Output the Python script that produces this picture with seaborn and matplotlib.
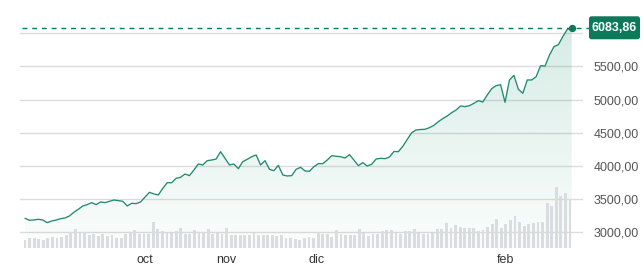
import numpy as np
import matplotlib
matplotlib.use("Agg")
import matplotlib.pyplot as plt
import matplotlib.transforms as mtransforms
from matplotlib.patches import FancyBboxPatch
import seaborn as sns

# ---------------- data ----------------
price = [3211, 3181, 3186, 3196, 3185, 3145, 3170, 3185, 3205, 3216,
         3246, 3302, 3347, 3397, 3417, 3447, 3417, 3457, 3447, 3467,
         3487, 3477, 3467, 3397, 3437, 3432, 3457, 3530, 3603, 3578,
         3563, 3663, 3748, 3748, 3814, 3829, 3879, 3854, 3939, 4030,
         4015, 4080, 4090, 4105, 4216, 4116, 4015, 4030, 3959, 4065,
         4100, 4140, 4166, 4015, 4080, 3950, 3929, 4010, 3864, 3849,
         3854, 3950, 3980, 3925, 3920, 3990, 4035, 4035, 4090, 4155,
         4146, 4140, 4120, 4171, 4090, 4005, 4050, 4000, 4025, 4105,
         4116, 4110, 4135, 4218, 4216, 4296, 4400, 4502, 4543, 4550,
         4553, 4578, 4613, 4668, 4714, 4754, 4804, 4845, 4905, 4895,
         4910, 4945, 4985, 4965, 5070, 5166, 5211, 5226, 4960, 5297,
         5367, 5156, 5096, 5297, 5297, 5347, 5512, 5507, 5673, 5799,
         5829, 5950, 6060, 6083.86]

volume = [7.7, 10, 10.3, 9.3, 8.3, 10.3, 11.3, 10.3, 11.3, 13.3,
          15.7, 19.3, 15, 15.7, 13.3, 14, 12.3, 14, 12, 13,
          9.7, 10.3, 14.3, 16.3, 17.7, 14.3, 14, 14, 25.7, 18.7,
          17, 15, 15, 17, 20.3, 14.3, 14, 17.7, 15.7, 15.7,
          19.3, 14.3, 15, 14, 20.3, 13.3, 12.7, 12.7, 13, 13.3,
          15, 13.3, 12.7, 13, 13, 11.7, 13.3, 10.3, 9.7, 9.3,
          8.3, 10.3, 11, 10, 16.3, 14.3, 14, 11, 18.3, 14,
          12.7, 13.3, 12.7, 19.3, 15, 11.7, 13.7, 14.3, 16.7, 17.7,
          17.7, 15, 14.3, 17.3, 17.3, 19, 15, 13.7, 14.3, 15,
          19, 19, 25, 20, 23, 21, 19.7, 20.3, 20, 16.7,
          17.7, 21, 24, 29.3, 19.7, 24.3, 27.7, 31.7, 26, 21.7,
          24.3, 25, 25.7, 26, 45, 41.7, 61, 52, 55.3, 49.3]

month_labels = ["oct", "nov", "dic", "feb"]
month_pos = [27.0, 45.2, 65.7, 108.0]
ytick_vals = [3000, 3500, 4000, 4500, 5000, 5500, 6000]
ytick_text = ["3000,00", "3500,00", "4000,00", "4500,00", "5000,00", "5500,00", ""]
last_label = "6083,86"

# ---------------- styling ----------------
sns.set_theme(style="white")
plt.rcParams['font.family'] = ['Liberation Sans', 'DejaVu Sans']

LINE = "#1f8c6c"
DARK = "#0b7a5b"
GRID = "#dcdcdc"
BAR = "#dadddf"

W, H = 643, 268
fig = plt.figure(figsize=(W / 100, H / 100), dpi=100)
left_px, right_px, top_px, bot_px = 20, 583, 10, 248
rect = [left_px / W, (H - bot_px) / H, (right_px - left_px) / W, (bot_px - top_px) / H]

n = len(price)
idx = np.arange(n)
ppi = (571.7 - 25) / (n - 1)
xlo = -(25 - left_px) / ppi
xhi = (n - 1) + (right_px - 571.7) / ppi
ylo, yhi = 2763, 6352

axv = fig.add_axes(rect)
axm = fig.add_axes(rect)
axm.set_zorder(1)
axv.set_zorder(2)
axm.patch.set_alpha(0)
axv.patch.set_alpha(0)

# gradient fill under the line
poly = axm.fill_between(idx, price, ylo, color="none", lw=0)
grad = np.zeros((256, 1, 4))
grad[:, 0, :3] = matplotlib.colors.to_rgb("#2a9878")
grad[:, 0, 3] = np.linspace(0.02, 0.19, 256)
im = axm.imshow(grad, extent=[0, n - 1, ylo, price[-1]], aspect="auto",
                origin="lower", zorder=1, interpolation="bilinear")
im.set_clip_path(poly.get_paths()[0], transform=axm.transData)

sns.lineplot(x=idx, y=price, ax=axm, color=LINE, lw=0.95, estimator=None, zorder=3)

axm.set_xlim(xlo, xhi)
axm.set_ylim(ylo, yhi)
axm.set_yticks(ytick_vals)
axm.set_yticklabels(ytick_text)
axm.yaxis.tick_right()
axm.tick_params(axis="y", length=0, pad=7.5, labelsize=9, labelcolor="#555555")
axm.set_xticks(month_pos)
axm.set_xticklabels(month_labels)
axm.tick_params(axis="x", length=0, pad=4, labelsize=9, labelcolor="#333333")
axm.yaxis.grid(True, color=GRID, lw=1)
axm.xaxis.grid(False)
for s in axm.spines.values():
    s.set_visible(False)
axm.set_xlabel("")
axm.set_ylabel("")

# dashed last-value line, dot and label
axm.axhline(price[-1], xmin=(22 - left_px) / (right_px - left_px),
            xmax=(589 - left_px) / (right_px - left_px), clip_on=False,
            color=DARK, lw=1, ls=(0, (3.5, 3.5)), zorder=4)
axm.scatter([idx[-1]], [price[-1]], s=28, color=DARK, zorder=6, clip_on=False, lw=0)

y_disp = axm.transData.transform((0, price[-1]))[1]
box = FancyBboxPatch((589, y_disp - 11.5), 51, 23,
                     boxstyle="round,pad=0,rounding_size=2.5",
                     transform=mtransforms.IdentityTransform(),
                     fc=DARK, ec="none", zorder=10)
fig.patches.append(box)
fig.text(614.5 / W, y_disp / H, last_label, ha="center", va="center",
         color="white", fontsize=9, fontweight="bold", zorder=11)

# volume bars
nv = len(volume)
ppb = (570 - 25) / (nv - 1)
sns.barplot(x=np.arange(nv), y=volume, ax=axv, color=BAR, saturation=1,
            width=0.62, linewidth=0, errorbar=None, native_scale=True)
axv.set_xlim(-(25 - left_px) / ppb, (nv - 1) + (right_px - 570) / ppb)
axv.set_ylim(0, bot_px - top_px)
axv.axis("off")

fig.savefig("out.png", dpi=100)
